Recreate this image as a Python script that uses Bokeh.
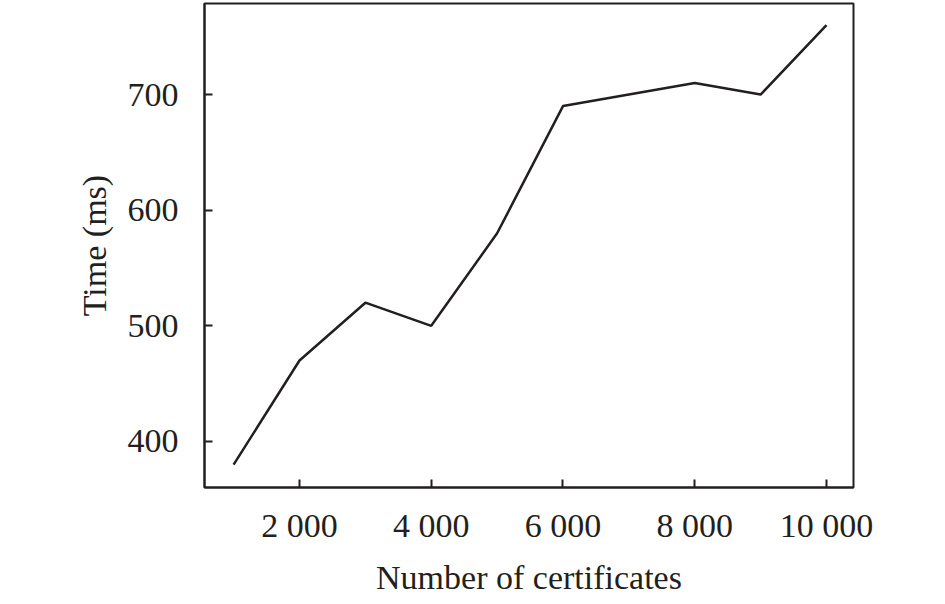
from bokeh.plotting import figure
from bokeh.models import FixedTicker, Range1d
from bokeh.embed import file_html
from bokeh.resources import INLINE

certificates = [1000, 2000, 3000, 4000, 5000, 6000, 7000, 8000, 9000, 10000]
time_ms = [380, 470, 520, 500, 580, 690, 700, 710, 700, 760]
x_ticks = [2000, 4000, 6000, 8000, 10000]
x_tick_labels = ["2 000", "4 000", "6 000", "8 000", "10 000"]
y_ticks = [400, 500, 600, 700]

FONT = "Liberation Serif"
INK = "#231f20"

p = figure(width=929, height=588, output_backend="svg", toolbar_location=None,
           x_range=Range1d(558, 10410), y_range=Range1d(360.2, 778.7),
           frame_width=649, frame_height=484,
           min_border_left=204, min_border_right=76, min_border_top=3, min_border_bottom=101)
p.grid.visible = False
p.background_fill_color = "white"
p.border_fill_color = "white"
p.outline_line_color = INK
p.outline_line_width = 2
p.outline_line_alpha = 1

p.line(certificates, time_ms, line_color=INK, line_width=2.5)

p.xaxis.ticker = FixedTicker(ticks=x_ticks)
p.xaxis.major_label_overrides = {t: l for t, l in zip(x_ticks, x_tick_labels)}
p.yaxis.ticker = FixedTicker(ticks=y_ticks)
p.xaxis.axis_label = "Number of certificates"
p.yaxis.axis_label = "Time (ms)"

for ax in (p.xaxis[0], p.yaxis[0]):
    ax.axis_line_color = INK
    ax.axis_line_width = 2
    ax.major_tick_line_color = INK
    ax.major_tick_line_width = 2
    ax.major_tick_in = 8
    ax.major_tick_out = 0
    ax.minor_tick_line_color = None
    ax.major_label_text_font = FONT
    ax.major_label_text_font_size = "34px"
    ax.major_label_text_color = INK
    ax.axis_label_text_font = FONT
    ax.axis_label_text_font_size = "34px"
    ax.axis_label_text_font_style = "normal"
    ax.axis_label_text_color = INK

p.xaxis.major_label_standoff = 19
p.xaxis.axis_label_standoff = 12
p.yaxis.major_label_standoff = 26
p.yaxis.axis_label_standoff = 12

open("out.html", "w").write(file_html(p, INLINE))
